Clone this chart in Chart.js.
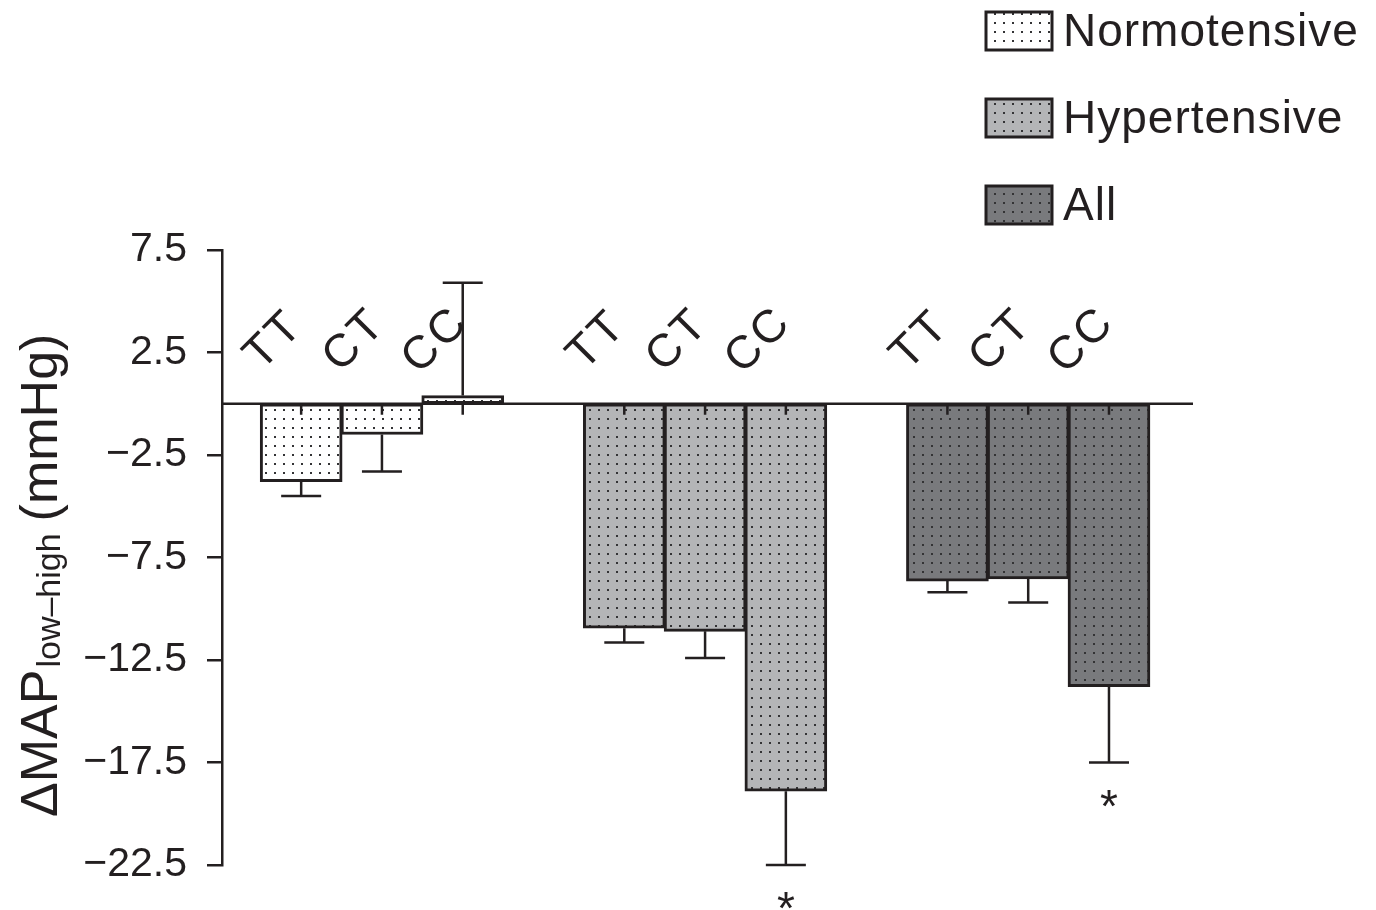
<!DOCTYPE html>
<html>
<head>
<meta charset="utf-8">
<script src="https://cdn.jsdelivr.net/npm/chart.js@4"></script>
<style>
  html, body { margin: 0; padding: 0; background: #fff; }
  #wrap { position: relative; width: 1376px; height: 910px; }
</style>
</head>
<body>
<div id="wrap"><canvas id="mapChart"></canvas></div>
<script>
const genotypes = ['TT', 'CT', 'CC'];
const groups = ['Normotensive', 'Hypertensive', 'All'];
const yTicks = [-22.5, -17.5, -12.5, -7.5, -2.5, 2.5, 7.5];

const normoMean = [-3.8, -1.5, 0.4];
const normoErr = [0.7, 1.8, 5.5];
const hyperMean = [-10.95, -11.1, -18.9];
const hyperErr = [0.7, 1.3, 3.6];
const allMean = [-8.65, -8.55, -13.8];
const allErr = [0.55, 1.15, 3.7];
const normoSig = [false, false, false];
const hyperSig = [false, false, true];
const allSig = [false, false, true];

const ink = '#231f20';
const font = '"Liberation Sans", Arial, sans-serif';

function dots(bg) {
    const c = document.createElement('canvas');
    c.width = 9; c.height = 9;
    const g = c.getContext('2d');
    g.fillStyle = bg;
    g.fillRect(0, 0, 9, 9);
    g.fillStyle = '#333335';
    g.fillRect(4, 4, 2, 2);
    return g.createPattern(c, 'repeat');
}

const fills = [dots('#ffffff'), dots('#b4b5b7'), dots('#797a7d')];
const means = [normoMean, hyperMean, allMean];
const errs = [normoErr, hyperErr, allErr];
const sigs = [normoSig, hyperSig, allSig];

// slot on the x axis: one empty slot between groups
const slot = (g, i) => g * 4 + i;

const datasets = groups.map((name, g) => ({
    label: name,
    data: means[g].map((v, i) => ({ x: slot(g, i), y: v })),
    backgroundColor: fills[g],
    borderColor: ink,
    borderWidth: 3,
    borderSkipped: false,
    barThickness: 82,
    grouped: false
}));

const extras = {
    id: 'extras',
    afterDatasetsDraw(chart) {
        const ctx = chart.ctx;
        const xs = chart.scales.x;
        const ys = chart.scales.y;
        const area = chart.chartArea;
        const y0 = ys.getPixelForValue(0);
        ctx.save();
        ctx.strokeStyle = ink;
        ctx.fillStyle = ink;
        ctx.lineWidth = 2.5;

        // zero line
        ctx.beginPath();
        ctx.moveTo(area.left, y0);
        ctx.lineTo(area.right, y0);
        ctx.stroke();

        groups.forEach((name, g) => {
            means[g].forEach((m, i) => {
                const x = xs.getPixelForValue(slot(g, i));
                const yEnd = ys.getPixelForValue(m + Math.sign(m) * errs[g][i]);
                const yBar = ys.getPixelForValue(m);

                ctx.lineWidth = 2.5;
                ctx.beginPath();
                ctx.moveTo(x, yBar);
                ctx.lineTo(x, yEnd);
                ctx.moveTo(x - 20, yEnd);
                ctx.lineTo(x + 20, yEnd);
                // little stub under the zero line
                ctx.moveTo(x, y0);
                ctx.lineTo(x, y0 + 11);
                ctx.stroke();

                if (sigs[g][i]) {
                    ctx.font = '46px ' + font;
                    ctx.textAlign = 'center';
                    ctx.textBaseline = 'alphabetic';
                    ctx.fillText('*', x, yEnd + 33 + 26);
                }

                ctx.save();
                ctx.translate(x - 27, y0 - 63);
                ctx.rotate(-Math.PI / 4);
                ctx.font = '46px ' + font;
                ctx.letterSpacing = '3px';
                ctx.textAlign = 'center';
                ctx.textBaseline = 'middle';
                ctx.fillText(genotypes[i], 0, 0);
                ctx.restore();
            });
        });

        // y axis title with subscript
        ctx.save();
        ctx.translate(57, 817);
        ctx.rotate(-Math.PI / 2);
        ctx.textAlign = 'left';
        ctx.textBaseline = 'alphabetic';
        ctx.font = '52px ' + font;
        ctx.fillText('ΔMAP', 0, 0);
        let w = ctx.measureText('ΔMAP').width;
        ctx.font = '34px ' + font;
        ctx.fillText('low–high', w + 2, 3);
        w += 2 + ctx.measureText('low–high').width;
        ctx.font = '52px ' + font;
        ctx.fillText('(mmHg)', w + 12, 0);
        ctx.restore();

        // legend
        ctx.font = '46px ' + font;
        ctx.letterSpacing = '1px';
        ctx.textAlign = 'left';
        ctx.textBaseline = 'alphabetic';
        groups.forEach((name, g) => {
            const base = 46 + g * 87;
            ctx.fillStyle = fills[g];
            ctx.fillRect(986, base - 34, 66, 38);
            ctx.lineWidth = 3;
            ctx.strokeStyle = ink;
            ctx.strokeRect(986, base - 34, 66, 38);
            ctx.fillStyle = ink;
            ctx.fillText(name, 1063, base);
        });
        ctx.restore();
    }
};

new Chart(document.getElementById('mapChart'), {
    type: 'bar',
    data: { datasets: datasets },
    options: {
        responsive: true,
        maintainAspectRatio: false,
        animation: false,
        layout: { padding: { top: 250, bottom: 45, left: 0, right: 183 } },
        plugins: {
            legend: { display: false },
            tooltip: { enabled: false }
        },
        scales: {
            x: { type: 'linear', min: -0.98, max: 11.04, offset: false, display: false },
            y: {
                min: -22.5,
                max: 7.5,
                afterBuildTicks: scale => {
                    scale.ticks = yTicks.map(v => ({ value: v }));
                },
                afterFit: scale => {
                    scale.width = 222;
                },
                ticks: {
                    color: ink,
                    padding: 20,
                    font: { family: font, size: 41 },
                    callback: v => (v < 0 ? '\u2212' + Math.abs(v).toFixed(1) : v.toFixed(1))
                },
                grid: {
                    drawOnChartArea: false,
                    tickLength: 15,
                    color: ink,
                    lineWidth: 2.5
                },
                border: { display: true, color: ink, width: 2.5 }
            }
        }
    },
    plugins: [extras]
});
</script>
</body>
</html>
